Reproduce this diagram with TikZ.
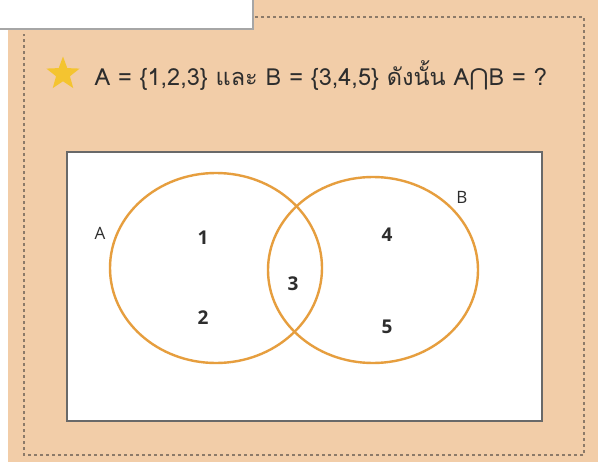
\documentclass[tikz,border=0pt]{standalone}
\usepackage{fontspec}
\setmainfont{Open Sans}
\newfontfamily\thaifont[Script=Thai]{Loma}
\newfontfamily\symfont{DejaVu Sans}
\usetikzlibrary{shapes.geometric}
\definecolor{sand}{RGB}{242,205,168}
\definecolor{rim}{RGB}{140,122,105}
\definecolor{ring}{RGB}{230,158,62}
\definecolor{frame}{RGB}{105,105,105}
\definecolor{ink}{RGB}{45,45,45}
\definecolor{gold}{RGB}{244,196,48}

\begin{document}
\begin{tikzpicture}[x=1pt,y=-1pt,
  setlabel/.style={font=\fontsize{17}{17}\selectfont,text=ink},
  member/.style={font=\fontsize{19}{19}\selectfont\bfseries,text=ink}]
        \useasboundingbox (0,0) rectangle (598,463);
        % card and tab
        \fill[sand] (8,0) rectangle (598,462);
        \fill[black!35] (0,0) rectangle (254,30);
        \fill[white] (0,0) rectangle (252,28);
        \draw[rim,dash pattern=on 3pt off 3pt,line width=1.6pt] (255,17) -- (584,17) -- (584,455) -- (24,455) -- (24,34);
        % question line
        \node[star,star points=5,star point ratio=2.4,fill=gold,minimum size=35pt,inner sep=0pt] (badge) at (63,74) {};
        \node[anchor=west,text=ink,font=\thaifont\fontsize{23.5}{23.5}\selectfont] (question) at (91,76)
          {A = \{1,2,3\} และ B = \{3,4,5\} ดังนั้น A{\symfont ⋂}B = ?};
        % venn panel
        \draw[frame,fill=white,line width=2pt] (67,152) rectangle (542,421);
        \draw[ring,line width=2.4pt] (216,268) ellipse (106 and 95);
        \draw[ring,line width=2.4pt] (373,270) ellipse (105 and 93);
        \node[setlabel] (nameA) at (100,233) {A};
        \node[setlabel] (nameB) at (462,197) {B};
        \foreach \v/\px/\py in {1/203/238,2/203/318,3/293/284,4/387/235,5/387/327}
          \node[member] (m\v) at (\px,\py) {\v};
      \end{tikzpicture}
\end{document}
